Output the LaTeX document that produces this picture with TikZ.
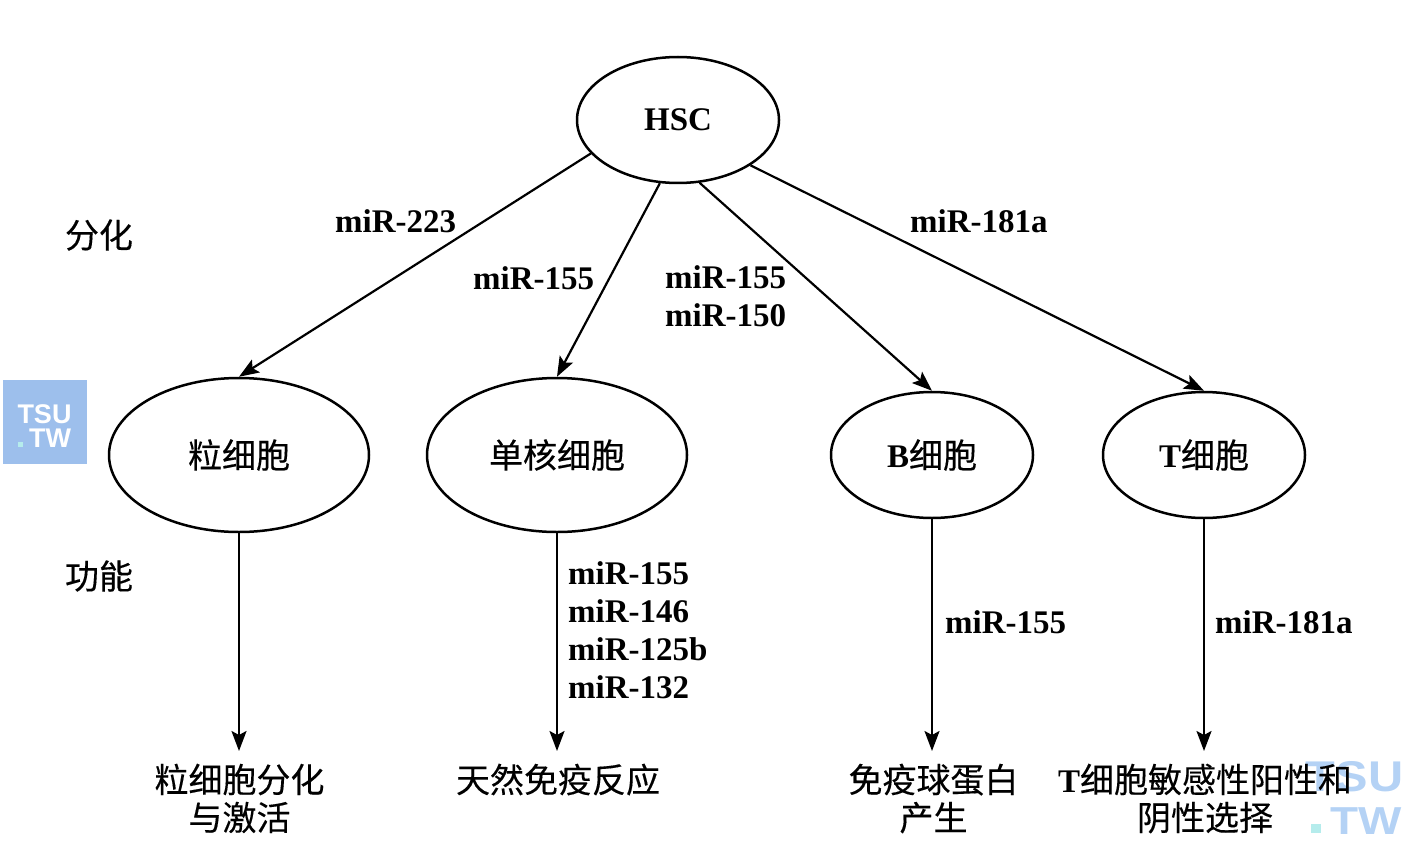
\documentclass[tikz,border=0pt]{standalone}
\usepackage{fontspec}
\setmainfont{Liberation Serif}[BoldFont={Liberation Serif Bold}]
\newfontfamily\cjk{Noto Sans CJK SC}[FakeBold=0.25]
\newfontfamily\wm{Liberation Sans Bold}
\newcommand{\lat}[1]{{\bfseries\fontsize{33}{38}\selectfont #1}}
\newcommand{\han}[1]{{\cjk\fontsize{34}{38}\selectfont #1}}
\definecolor{wmbox}{HTML}{9DBFEC}
\definecolor{wmlight}{HTML}{B4D2F5}
\definecolor{wmdot}{HTML}{B5ECEC}
\usetikzlibrary{shapes.geometric,arrows.meta}
\tikzset{
  x=1pt,y=-1pt,
  big/.style={draw,line width=2.5pt,ellipse,inner sep=0,minimum width=260pt,minimum height=154pt},
  small/.style={draw,line width=2.5pt,ellipse,inner sep=0,minimum width=202pt,minimum height=126pt},
  conn/.style={line width=2.2pt,-{Stealth[length=20pt,width=15pt,inset=4pt]}},
  mirlabel/.style={inner sep=0,align=left,anchor=west,font=\bfseries\fontsize{33}{38}\selectfont},
  side/.style={inner sep=0},
  result/.style={inner sep=0,align=center,anchor=north,font=\fontsize{34}{38}\selectfont},
  smallmark/.style={inner sep=0,anchor=base,text=white,font=\wm\fontsize{27}{27}\selectfont},
  largemark/.style={inner sep=0,anchor=base,text=wmlight,xscale=1.1},
}
\begin{document}
\begin{tikzpicture}
\useasboundingbox (0,0) rectangle (1418,845);
% watermarks
\fill[wmbox] (3,380) rectangle (87,464);
\node[smallmark] (wmA) at (44.5,423) {TSU};
\node[smallmark] (wmB) at (50,447) {TW};
\fill[wmdot] (18,442) rectangle (23,447);
\node[largemark,font=\wm\fontsize{43}{43}\selectfont,xscale=1.03] (wmC) at (1354.5,791) {TSU};
\node[largemark,font=\wm\fontsize{39}{39}\selectfont,xscale=1.07] (wmD) at (1366.5,834) {TW};
\fill[wmdot] (1311,824) rectangle (1321,833);
% ellipses
\node[small] (hsc) at (678,120) {\lat{HSC}};
\node[big] (gran) at (239,455) {\han{粒细胞}};
\node[big] (mono) at (557,455) {\han{单核细胞}};
\node[small] (bc) at (932,455) {\lat{B}\han{细胞}};
\node[small] (tc) at (1204,455) {\lat{T}\han{细胞}};
% results
\node[result] (rg) at (239.5,763.5) {\han{粒细胞分化}\\\han{与激活}};
\node[result] (rm) at (558,763.5) {\han{天然免疫反应}};
\node[result] (rb) at (933.5,763.5) {\han{免疫球蛋白}\\\han{产生}};
\node[result] (rt) at (1205,763.5) {\lat{T}\han{细胞敏感性阳性和}\\\han{阴性选择}};
% connectors
\draw[conn] (hsc.201) -- (gran.north);
\draw[conn] (hsc.254) -- (mono.north);
\draw[conn] (hsc.289.5) -- (bc.north);
\draw[conn] (hsc.328) -- (tc.north);
\draw[conn] (gran.south) -- (gran.south |- 0,751);
\draw[conn] (mono.south) -- (mono.south |- 0,751);
\draw[conn] (bc.south) -- (bc.south |- 0,751);
\draw[conn] (tc.south) -- (tc.south |- 0,751);
% labels
\node[mirlabel] (l1) at (335,221) {miR-223};
\node[mirlabel] (l2) at (473,278) {miR-155};
\node[mirlabel] (l3) at (665,296.5) {miR-155\\miR-150};
\node[mirlabel] (l4) at (910,221) {miR-181a};
\node[mirlabel] (l5) at (568,630) {miR-155\\miR-146\\miR-125b\\miR-132};
\node[mirlabel] (l6) at (945,622) {miR-155};
\node[mirlabel] (l7) at (1215,622) {miR-181a};
\node[side] (s1) at (99,235) {\han{分化}};
\node[side] (s2) at (99,576) {\han{功能}};
\end{tikzpicture}
\end{document}
